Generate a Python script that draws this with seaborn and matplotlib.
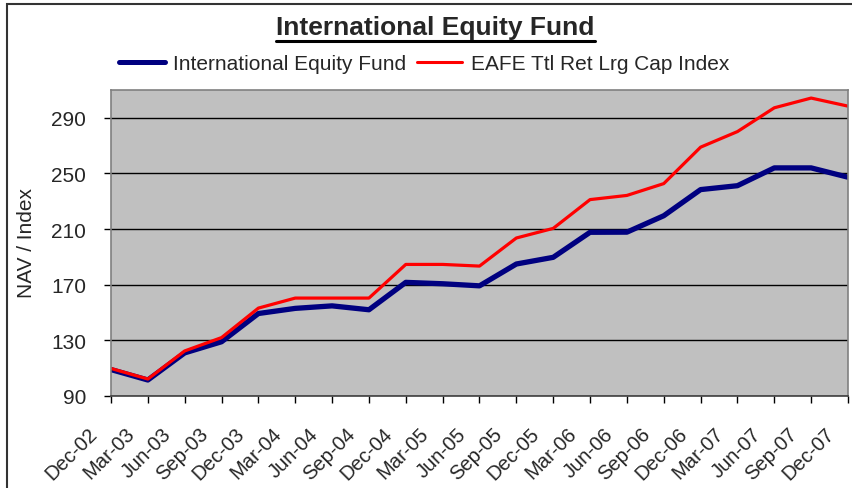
import matplotlib
matplotlib.use('Agg')
import matplotlib.pyplot as plt
import seaborn as sns
import pandas as pd
from matplotlib.transforms import ScaledTranslation
from matplotlib.lines import Line2D
from matplotlib.patches import Rectangle

quarters = ["Dec-02", "Mar-03", "Jun-03", "Sep-03", "Dec-03", "Mar-04", "Jun-04",
            "Sep-04", "Dec-04", "Mar-05", "Jun-05", "Sep-05", "Dec-05", "Mar-06",
            "Jun-06", "Sep-06", "Dec-06", "Mar-07", "Jun-07", "Sep-07", "Dec-07"]
fund = [109.0, 101.5, 121.0, 129.0, 149.3, 153.0, 154.8, 152.0, 171.7, 170.7, 169.2,
        184.9, 189.7, 207.7, 207.8, 219.6, 238.4, 241.2, 254.0, 254.0, 247.3]
eafe = [109.8, 102.2, 122.4, 132.0, 153.2, 160.4, 160.4, 160.4, 184.6, 184.6, 183.4,
        203.6, 210.5, 231.2, 234.2, 242.7, 268.9, 280.1, 297.2, 304.2, 298.4]
yticks = [90, 130, 170, 210, 250, 290]
series_names = ["International Equity Fund", "EAFE Ttl Ret Lrg Cap Index"]
colors = ["#000080", "#FF0000"]

sns.set_theme(style="white")
plt.rcParams['font.family'] = ['Liberation Sans', 'DejaVu Sans']

W, H = 852, 489
fig = plt.figure(figsize=(W / 100, H / 100), dpi=100)
ax = fig.add_axes([111 / W, 1 - 397 / H, (848 - 111) / W, (397 - 91) / H])
ax.set_facecolor("#C0C0C0")

df = pd.DataFrame({"pos": range(len(quarters)), "fund": fund, "eafe": eafe})
sns.lineplot(data=df, x="pos", y="fund", ax=ax, color=colors[0], lw=3.8)
sns.lineplot(data=df, x="pos", y="eafe", ax=ax, color=colors[1], lw=2.3)

ax.set_xlim(0, len(quarters) - 1)
ax.set_ylim(90, 310)
ax.set_yticks(yticks)
ax.set_yticklabels([str(v) for v in yticks])
ax.yaxis.grid(True, color="black", lw=1)
ax.xaxis.grid(False)
ax.set_axisbelow(True)
ax.set_xlabel("")
ax.set_ylabel("")

for s in ax.spines.values():
    s.set_color("#808080")
    s.set_linewidth(1.2)
ax.spines["bottom"].set_color("#404040")

ax.tick_params(axis="y", direction="out", length=5, width=1, color="black",
               labelsize=15, pad=13, left=True)
ax.tick_params(axis="x", direction="out", length=5, width=1, color="black",
               labelsize=14.5, pad=15, bottom=True)

ax.set_xticks(range(len(quarters)))
ax.set_xticklabels(quarters, rotation=45, ha="right", va="top")
offset = ScaledTranslation(-10 / 100, 0, fig.dpi_scale_trans)
for lbl in ax.get_xticklabels():
    lbl.set_transform(lbl.get_transform() + offset)

fig.text(27 / W, 1 - 243 / H, "NAV / Index", rotation=90, ha="center",
         va="center", fontsize=15)

handles = [Line2D([], [], color=colors[0], lw=3.6),
           Line2D([], [], color=colors[1], lw=2.2)]
fig.legend(handles, series_names, loc="center", bbox_to_anchor=(424 / W, 1 - 65 / H),
           ncol=2, frameon=False, fontsize=15, handlelength=2.2,
           handletextpad=0.4, columnspacing=0.5)

title = fig.text(435.5 / W, 1 - 28 / H, "International Equity Fund", ha="center",
                 va="center", fontsize=19, fontweight="bold")
fig.canvas.draw()
bb = title.get_window_extent()
fig.add_artist(Line2D([bb.x0 / W, bb.x1 / W], [1 - 42 / H, 1 - 42 / H],
                      transform=fig.transFigure, color="black", lw=2.2))

fig.add_artist(Rectangle((7 / W, -0.1), 2, 1 - 5 / H + 0.1, transform=fig.transFigure,
                         fill=False, edgecolor="#333333", lw=1.5))

fig.savefig("out.png", dpi=100)
